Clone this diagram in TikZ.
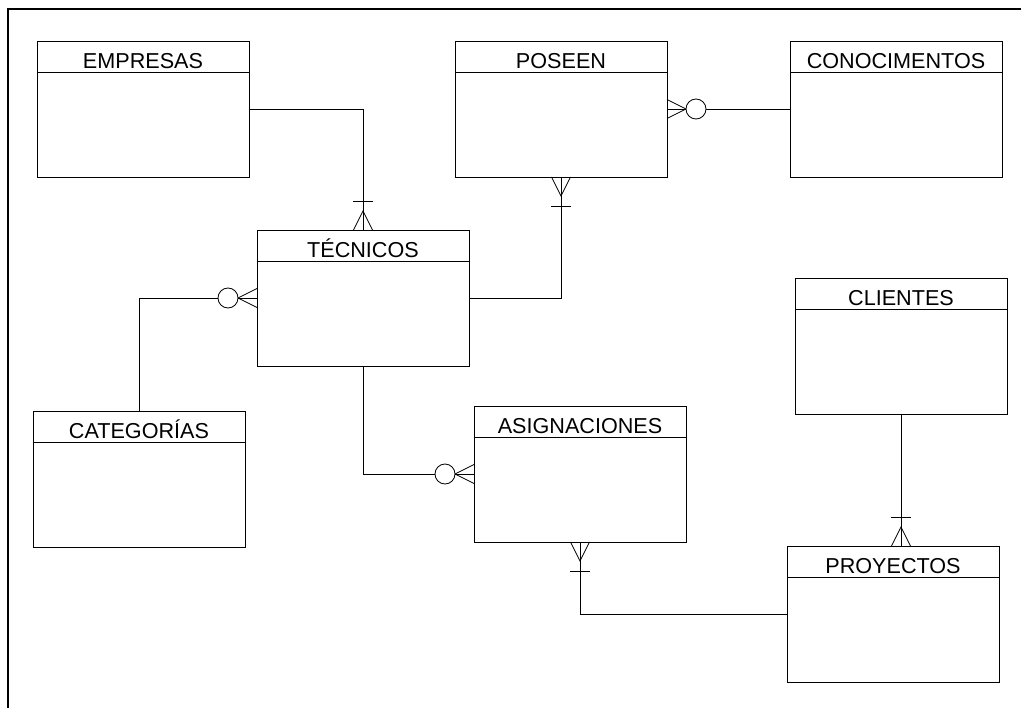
\documentclass[tikz,border=0pt]{standalone}
\usepackage{fontspec}
\setmainfont{Liberation Sans}
\usetikzlibrary{calc}
\tikzset{
  entity/.style={draw, line width=0.85pt, minimum width=212pt, minimum height=136pt,
                 inner sep=0pt, outer sep=0pt, anchor=north west},
  etitle/.style={anchor=base, inner sep=0pt, font=\fontsize{21.6}{25}\selectfont},
  conn/.style={draw, line width=0.85pt},
  manybar/.pic={\draw[line width=0.85pt] (0,-9.5) -- (19,0) -- (0,9.5);
                \draw[line width=0.85pt] (29,-10) -- (29,10);},
  manyzero/.pic={\draw[line width=0.85pt] (0,-9.5) -- (19,0) -- (0,9.5);
                 \draw[line width=0.85pt, fill=white] (29,0) circle[radius=10pt];}
}
\newcommand{\erentity}[4]{%
  \node[entity] (#1) at (#2,#3) {};
  \draw[line width=0.85pt] ($(#1.north west)+(0,31)$) -- ($(#1.north east)+(0,31)$);
  \node[etitle] (#1-t) at ($(#1.north)+(0,27.5)$) {#4};
}
\begin{document}
\begin{tikzpicture}[x=1pt,y=-1pt]
\useasboundingbox (0,0) rectangle (1021,708);
\draw[line width=1.6pt] (8,708) -- (8,9) -- (1021,9);

\erentity{emp}{37}{41}{EMPRESAS}
\erentity{pos}{455}{41}{POSEEN}
\erentity{con}{790}{41}{CONOCIMENTOS}
\erentity{tec}{257}{230}{TÉCNICOS}
\erentity{cli}{795}{278}{CLIENTES}
\erentity{cat}{33}{411}{CATEGORÍAS}
\erentity{asi}{474}{406}{ASIGNACIONES}
\erentity{pro}{787}{546}{PROYECTOS}

\coordinate (proTop) at (cli.south |- pro.north);

\path[conn] (emp.east) -| (tec.north);
\path[conn] (pos.east) -- (con.west);
\path[conn] (pos.south) |- (tec.east);
\path[conn] (tec.west) -| (cat.north);
\path[conn] (tec.south) |- (asi.west);
\path[conn] (asi.south) |- (pro.west);
\path[conn] (cli.south) -- (proTop);

\pic[rotate=90] at (tec.north) {manybar};
\pic[rotate=0] at (pos.east) {manyzero};
\pic[rotate=-90] at (pos.south) {manybar};
\pic[rotate=180] at (tec.west) {manyzero};
\pic[rotate=180] at (asi.west) {manyzero};
\pic[rotate=-90] at (asi.south) {manybar};
\pic[rotate=90] at (proTop) {manybar};
\end{tikzpicture}
\end{document}
